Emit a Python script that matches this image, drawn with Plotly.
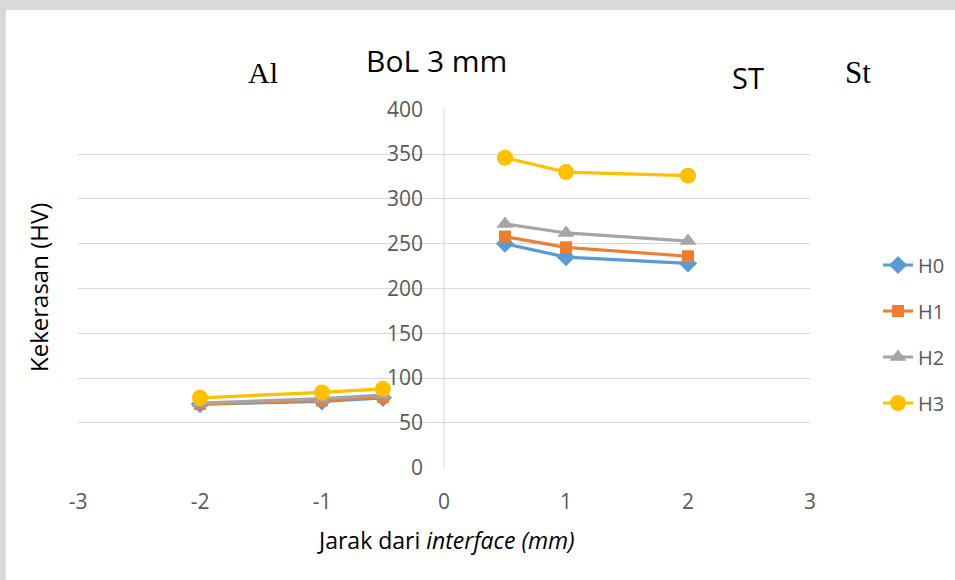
import plotly.graph_objects as go

x_vals = [-2, -1, -0.5, 0.5, 1, 2]
h0 = [71, 74, 78, 250, 235, 228]
h1 = [71, 75, 79, 258, 246, 236]
h2 = [72, 77, 81, 272, 262, 253]
h3 = [78, 84, 88, 346, 330, 326]
series_names = ["H0", "H1", "H2", "H3"]
x_ticks = [-3, -2, -1, 0, 1, 2, 3]
x_tick_text = ["-3", "-2", "-1", "0", "1", "2", "3"]
y_ticks = [0, 50, 100, 150, 200, 250, 300, 350, 400]

colors = ["#5B9BD5", "#ED7D31", "#A5A5A5", "#FFC000"]
symbols = ["diamond", "square", "triangle-up", "circle"]
sizes = [14, 12, 15, 16]

W, H = 955, 580
L, R, T, B = 78, 145, 109, 112
pw, ph = W - L - R, H - T - B

def px(xp):
    return (xp - L) / pw

def py(yp):
    return (H - B - yp) / ph

fig = go.Figure()
for name, ys, c, s, sz in zip(series_names, [h0, h1, h2, h3], colors, symbols, sizes):
    xs = x_vals[:3] + [None] + x_vals[3:]
    yv = ys[:3] + [None] + ys[3:]
    fig.add_trace(go.Scatter(
        x=xs, y=yv, name=name, mode="lines+markers", connectgaps=False,
        line=dict(color=c, width=3.2), marker=dict(symbol=s, size=sz, color=c),
        legendgroup=name,
    ))

font = "Open Sans, Noto Sans, sans-serif"
serif = "Liberation Serif, Times New Roman, serif"

def label(text, xp, yp, fam, size, angle=0):
    return dict(text=text, x=px(xp), y=py(yp), xref="paper", yref="paper",
                xanchor="center", yanchor="middle", textangle=angle,
                showarrow=False, font=dict(family=fam, size=size, color="black"))

fig.update_layout(
    width=W, height=H,
    margin=dict(l=L, r=R, t=T, b=B, autoexpand=False),
    paper_bgcolor="white", plot_bgcolor="white",
    font=dict(family=font, color="#595959", size=21),
    showlegend=True,
    legend=dict(x=px(878), y=py(334), xanchor="left", yanchor="middle",
                font=dict(size=20, color="#595959"), tracegroupgap=17,
                bgcolor="rgba(0,0,0,0)"),
    xaxis=dict(range=[-3, 3], tickvals=x_ticks, ticktext=x_tick_text, showgrid=False,
               zeroline=False, showline=False, ticks="", ticklabelstandoff=19,
               tickfont=dict(size=21, color="#595959")),
    yaxis=dict(range=[-0.4, 400.4], tickvals=y_ticks, showgrid=True,
               gridcolor="#D9D9D9", gridwidth=1, zeroline=False, showline=False,
               ticks="", anchor="free", position=0.5, ticklabelstandoff=21,
               tickfont=dict(size=21, color="#595959")),
    shapes=[
        dict(type="rect", xref="paper", yref="paper", x0=px(-5), x1=px(960), y0=py(10), y1=py(-5),
             fillcolor="#D9D9D9", line=dict(width=0), layer="below"),
        dict(type="rect", xref="paper", yref="paper", x0=px(-5), x1=px(6), y0=py(585), y1=py(10),
             fillcolor="#D9D9D9", line=dict(width=0), layer="below"),
        dict(type="line", xref="x", yref="paper", x0=0, x1=0, y0=0, y1=1,
             line=dict(color="#D9D9D9", width=1)),
    ],
    annotations=[
        label("BoL 3 mm", 436, 60, font, 30),
        label("Al", 263, 72, serif, 30),
        label("ST", 748, 77, font, 29),
        label("St", 858, 72, serif, 31),
        label("Kekerasan (HV)", 38, 288, font, 24, angle=-90),
        label("Jarak dari <i>interface (mm)</i>", 446, 540, font, 23),
    ],
)

fig.write_html("out.html")
